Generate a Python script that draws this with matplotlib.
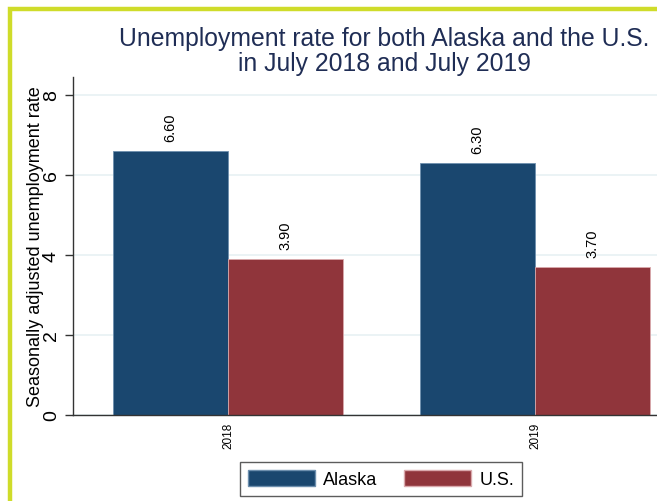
import numpy as np
import matplotlib
matplotlib.use('Agg')
import matplotlib.pyplot as plt
from matplotlib.patches import Rectangle, Patch

plt.rcParams['font.family'] = ['Liberation Sans', 'DejaVu Sans']

years = ['2018', '2019']
alaska = [6.60, 6.30]
us = [3.90, 3.70]
series_names = ['Alaska', 'U.S.']

navy = '#1a476f'
maroon = '#90353b'

W, H = 657, 502
fig = plt.figure(figsize=(W / 100, H / 100), dpi=100)

# frame like the stata graph region
fig.patches.append(Rectangle((9.5 / W, -0.1), 1.2, (H - 9.5) / H + 0.1,
                             transform=fig.transFigure, fill=False,
                             edgecolor='#cfdc2a', linewidth=3.2, zorder=0))

# plot region runs past the right edge of the picture
ax = fig.add_axes([73 / W, (H - 416) / H, (690 - 73) / W, (416 - 78) / H])

x = np.arange(len(years))
w = 0.375
b1 = ax.bar(x - w / 2, alaska, w, color=navy, edgecolor='#6d8fae', linewidth=0.6, zorder=2)
b2 = ax.bar(x + w / 2, us, w, color=maroon, edgecolor='#d9a9ac', linewidth=0.6, zorder=2)

for bars, vals in [(b1, alaska), (b2, us)]:
    for r, v in zip(bars, vals):
        ax.annotate(f'{v:.2f}', (r.get_x() + r.get_width() / 2, v),
                    xytext=(0, 7), textcoords='offset points',
                    rotation=90, ha='center', va='bottom', fontsize=10.5)

ax.set_xlim(-0.505, 1.505)
ax.set_ylim(0, 8.45)
ax.set_yticks([0, 2, 4, 6, 8])
ax.set_yticklabels(['0', '2', '4', '6', '8'], rotation=90, va='center')
ax.set_xticks(x)
ax.set_xticklabels(years, rotation=90, fontsize=8.5)
ax.tick_params(axis='x', length=0, pad=5)
ax.tick_params(axis='y', length=5.8, width=1, labelsize=14, pad=3.6, color='#333333')
ax.grid(axis='y', color='#e8f1f3', linewidth=1.2, zorder=0)
for s in ['top', 'right']:
    ax.spines[s].set_visible(False)
for s in ['left', 'bottom']:
    ax.spines[s].set_color('#333333')
    ax.spines[s].set_linewidth(1)
ax.set_ylabel('Seasonally adjusted unemployment rate', fontsize=13)
ax.yaxis.set_label_coords((44 - 73) / 617, 0.5)

fig.text(384 / W, 1 - 51.5 / H,
         'Unemployment rate for both Alaska and the U.S.\nin July 2018 and July 2019',
         ha='center', va='center', fontsize=17.8, color='#1f2d55', linespacing=1.08)

handles = [Patch(facecolor=navy, edgecolor='#6d8fae'), Patch(facecolor=maroon, edgecolor='#d9a9ac')]
leg = fig.legend(handles, series_names, loc='center', bbox_to_anchor=(381 / W, 1 - 480 / H),
                 ncol=2, fontsize=13, frameon=True, fancybox=False, edgecolor='#333333',
                 handlelength=3.7, handleheight=1.0, columnspacing=1.5, handletextpad=0.45,
                 borderpad=0.45, borderaxespad=0)
leg.get_frame().set_linewidth(1)

fig.savefig('out.png', dpi=100)
